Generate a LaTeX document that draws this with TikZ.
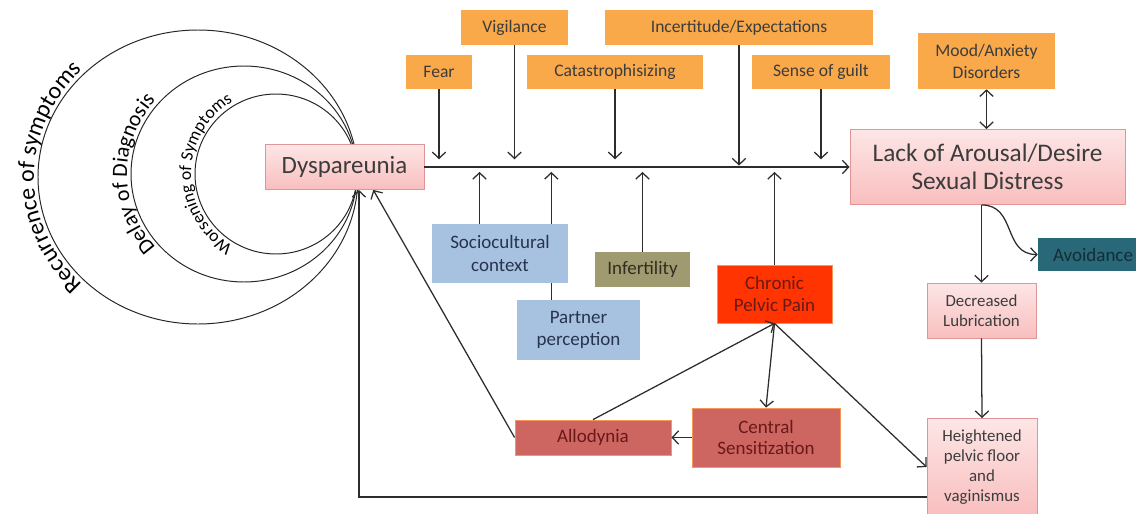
\documentclass[tikz,border=0pt]{standalone}
\usepackage{fontspec}
\setmainfont{Carlito}
\usetikzlibrary{arrows.meta,calc,decorations.text}

\definecolor{linecol}{RGB}{45,45,45}
\definecolor{txtcol}{RGB}{60,60,60}
\definecolor{orangebg}{RGB}{249,168,74}
\definecolor{pinktop}{RGB}{253,230,230}
\definecolor{pinkbot}{RGB}{249,190,190}
\definecolor{pinkline}{RGB}{222,150,150}
\definecolor{bluebg}{RGB}{167,193,224}
\definecolor{bluetxt}{RGB}{40,52,78}
\definecolor{olivebg}{RGB}{160,154,112}
\definecolor{olivetxt}{RGB}{50,45,30}
\definecolor{cppred}{RGB}{255,52,0}
\definecolor{salmon}{RGB}{205,102,96}
\definecolor{redline}{RGB}{246,150,90}
\definecolor{redtxt}{RGB}{105,25,25}
\definecolor{tealbg}{RGB}{40,104,120}
\definecolor{tealtxt}{RGB}{20,45,55}

\tikzset{
  link/.style={draw=linecol, line width=0.9pt},
  ring/.style={draw=black!85, line width=0.7pt},
  sz/.style 2 args={minimum width=#1*0.025cm, minimum height=#2*0.025cm},
  box/.style={rectangle, align=center, inner sep=1pt, text=txtcol},
  orangebox/.style={box, fill=orangebg, font=\fontsize{12.5}{15.6}\selectfont},
  pinkbox/.style={box, top color=pinktop, bottom color=pinkbot, draw=pinkline, line width=0.6pt},
  bluebox/.style={box, fill=bluebg, text=bluetxt, font=\fontsize{13.5}{15.8}\selectfont},
  redbox/.style={box, fill=salmon, draw=redline, line width=0.6pt, text=redtxt, font=\fontsize{13.5}{15.6}\selectfont}
}

\begin{document}
\begin{tikzpicture}[x=0.025cm, y=0.025cm, >={Straight Barb[length=4.5pt,width=9.5pt]}]

\useasboundingbox (0,0) rectangle (1136,-513);

% the three rings
\draw[ring] (198,-177) ellipse [x radius=160, y radius=147];
\draw[ring] (244,-174) ellipse [x radius=113, y radius=108];
\draw[ring] (276,-174) ellipse [x radius=81, y radius=80];
% ring labels, start points at 260 deg
\path[decorate, decoration={text along path, text align=center,
    text={|\fontsize{17}{17}\selectfont|Recurrence of symptoms}}]
  (169.52,-325.71) arc[start angle=260, end angle=100, x radius=164, y radius=151];
\path[decorate, decoration={text along path, text align=center,
    text={|\fontsize{15.5}{15.5}\selectfont|Delay of Diagnosis}}]
  (223.68,-284.30) arc[start angle=260, end angle=100, x radius=117, y radius=112];
\path[decorate, decoration={text along path, text align=center,
    text={|\fontsize{12.5}{12.5}\selectfont|Worsening of Symptoms}}]
  (261.24,-256.72) arc[start angle=260, end angle=100, x radius=85, y radius=84];

% main boxes
\node[pinkbox, sz={159}{45}, font=\fontsize{17.7}{20}\selectfont] (dysp) at (344.5,-167) {Dyspareunia};
\node[pinkbox, sz={275}{75}, font=\fontsize{18}{20}\selectfont] (lack) at (987.5,-167) {Lack of Arousal/Desire\\Sexual Distress};

% factors on top
\node[orangebox, sz={66}{34}] (fear) at (439,-72) {Fear};
\node[orangebox, sz={107}{35}] (vigil) at (514.5,-27.5) {Vigilance};
\node[orangebox, sz={176}{34}] (catas) at (615,-72) {Catastrophisizing};
\node[orangebox, sz={268}{35}] (incert) at (739,-27.5) {Incertitude/Expectations};
\node[orangebox, sz={138}{34}] (guilt) at (821,-72) {Sense of guilt};
\node[orangebox, sz={137}{56}] (mood) at (986.5,-61) {Mood/Anxiety\\Disorders};

% factors below
\node[bluebox, sz={136}{59}] (socio) at (500,-253.5) {Sociocultural\\context};
\node[bluebox, sz={123}{60}] (partner) at (578.5,-330) {Partner\\perception};
\node[box, fill=olivebg, text=olivetxt, sz={95}{35}, font=\fontsize{13.5}{15.6}\selectfont] (infert) at (642.5,-269.5) {Infertility};
\node[redbox, fill=cppred, sz={115}{58}] (cpp) at (774.5,-294) {Chronic\\Pelvic Pain};
\node[redbox, sz={148}{59}] (central) at (766,-437.5) {Central\\Sensitization};
\node[redbox, sz={156}{35}] (allod) at (593,-437.5) {Allodynia};

% right column
\node[box, fill=tealbg, text=tealtxt, sz={110}{33}, font=\fontsize{13.5}{15.6}\selectfont] (avoid) at (1093,-254.5) {Avoidance};
\node[pinkbox, sz={109}{55}, font=\fontsize{12}{14.2}\selectfont] (decr) at (981.5,-310.5) {Decreased\\Lubrication};
\node[pinkbox, sz={110}{97}, font=\fontsize{12}{14.2}\selectfont] (height) at (982,-467) {Heightened\\pelvic floor\\and\\vaginismus};

% main axis
\draw[link,->] (dysp.east) -- (lack.west);
\foreach \n in {fear,vigil,catas,guilt}
  \draw[link,->,shorten >=5.5pt] (\n.south) -- (\n.south |- dysp.east);
\draw[link,->,shorten >=1pt] (incert.south) -- (incert.south |- dysp.east);
\foreach \n in {infert,cpp}
  \draw[link,->,shorten >=3.5pt] (\n.north) -- (\n.north |- dysp.east);
\coordinate (s1) at ($(socio.north west)!0.35!(socio.north east)$);
\coordinate (p1) at ($(partner.north west)!0.28!(partner.north east)$);
\draw[link,->,shorten >=3.5pt] (s1) -- (s1 |- dysp.east);
\draw[link] (p1) -- (p1 |- socio.south);
\draw[link,->,shorten >=3.5pt] (p1 |- socio.north) -- (p1 |- dysp.east);
\draw[link,<->] (mood.south) -- (mood.south |- lack.north);

% right column links
\draw[link,->] (decr.north |- lack.south) -- (decr.north);
\draw[link,->] (decr.north |- lack.south) to[out=0,in=180,looseness=1.2] (avoid.west);
\draw[link,->] (decr.south) -- (height.north);

% pain loop
\draw[link,->] (cpp.south) -- (central.north);
\draw[link,->] (cpp.south) -- (height.west);
\draw[link,->] (allod.north) -- (cpp.south);
\draw[link,->] (central.west) -- (allod.east);
\draw[link,->] (allod.west) -- ($(dysp.south west)!0.68!(dysp.south east)$);
\coordinate (fb) at ($(height.west)+(0,-30)$);
\draw[link,->] (fb) -| ($(dysp.south west)!0.59!(dysp.south east)$);
\end{tikzpicture}
\end{document}
